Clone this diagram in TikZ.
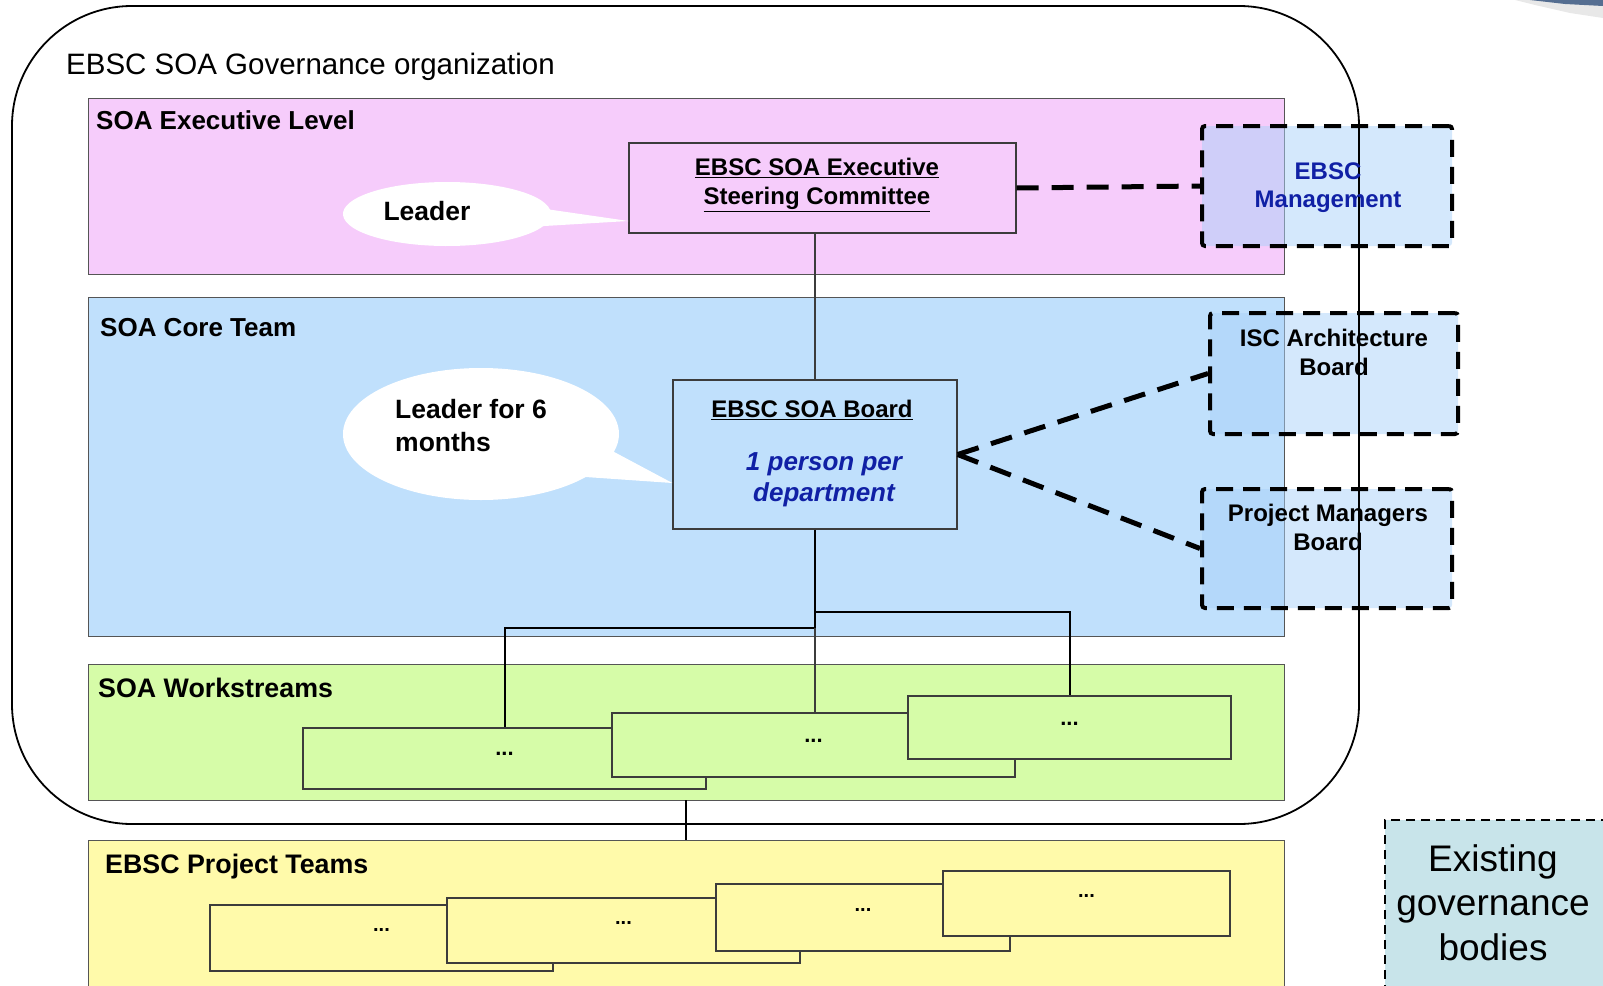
\documentclass[tikz,border=0pt]{standalone}
\usepackage{fontspec}
\setmainfont{Liberation Sans}
\usetikzlibrary{shapes.callouts,calc}
\definecolor{pinkband}{RGB}{246,204,251}
\definecolor{blueband}{RGB}{192,224,252}
\definecolor{greenband}{RGB}{214,252,168}
\definecolor{yellowband}{RGB}{255,250,170}
\definecolor{extblue}{RGB}{169,209,249}
\definecolor{exist}{RGB}{200,228,234}
\definecolor{bandline}{RGB}{85,85,85}
\definecolor{boxline}{RGB}{60,60,60}
\definecolor{darkbluetext}{RGB}{16,32,165}
\definecolor{cornerblue}{RGB}{85,110,145}
\begin{document}
\begin{tikzpicture}[x=1pt,y=-1pt,
 band/.style={draw=bandline, line width=1.2pt, anchor=north west, inner sep=0pt, minimum width=1196pt},
 orgbox/.style={draw=boxline, line width=1.3pt, inner sep=0pt},
 extbox/.style={draw=black, line width=4pt, dash pattern=on 17pt off 10pt, fill=extblue, fill opacity=0.5, rounded corners=3pt, inner sep=0pt},
 extlink/.style={line width=5pt, dash pattern=on 22pt off 13pt},
 bubble/.style={ellipse callout, fill=white, inner sep=0pt},
 bandlabel/.style={anchor=base west, inner sep=0pt, font=\fontsize{26}{31}\selectfont\bfseries},
 boxtext/.style={anchor=north, inner sep=0pt, align=center, font=\fontsize{24}{29}\selectfont\bfseries},
 dotstext/.style={inner sep=0pt, font=\fontsize{22}{26}\selectfont\bfseries},
 treeline/.style={line width=2pt},
 thinline/.style={line width=1.3pt, draw=boxline}]
\useasboundingbox (0,0) rectangle (1603,985);

% corner fragment
\fill[gray!30, opacity=0.6] (1515,0) -- (1603,0) -- (1603,18) -- (1570,13) -- (1535,5) -- cycle;
\fill[cornerblue] (1530,0) -- (1603,0) -- (1603,6) -- (1565,4) -- cycle;

% bands
\node[band, fill=pinkband, minimum height=176pt] (execband) at (88,98) {};
\node[band, fill=blueband, minimum height=339pt] (coreband) at (88,297) {};
\node[band, fill=greenband, minimum height=136pt] (wsband) at (88,664) {};
\node[band, fill=yellowband, minimum height=170pt] (ptband) at (88,840) {};

% outer organization frame
\draw[line width=1.8pt, rounded corners=120pt] (12,6) rectangle (1359,824);
\node[anchor=base west, inner sep=0pt, font=\fontsize{29.5}{34}\selectfont] (orgtitle) at (66,74) {EBSC SOA Governance organization};

% band labels
\node[bandlabel] (execlabel) at (96,129) {SOA Executive Level};
\node[bandlabel] (corelabel) at (100,336) {SOA Core Team};
\node[bandlabel, font=\fontsize{26.8}{31}\selectfont\bfseries] (wslabel) at (98,697) {SOA Workstreams};
\node[bandlabel, font=\fontsize{26.8}{31}\selectfont\bfseries] (ptlabel) at (105,873) {EBSC Project Teams};

% main boxes
\node[orgbox, fill=pinkband, minimum width=387pt, minimum height=90pt] (execbox) at (822.5,188) {};
\node[orgbox, fill=blueband, minimum width=284pt, minimum height=149pt] (board) at (815,454.5) {};

% callouts
\node[bubble, minimum width=208pt, minimum height=64pt, callout pointer arc=30,
  callout absolute pointer={([yshift=-33pt]execbox.west)}] (leadercall) at (447,214) {};
\node[bubble, minimum width=276pt, minimum height=132pt, callout pointer arc=25,
  callout absolute pointer={([yshift=-28.5pt]board.west)}] (boardcall) at (481,434) {};
\node[inner sep=0pt, font=\fontsize{26.5}{31}\selectfont\bfseries] (leadertext) at (427,211) {Leader};
\node[anchor=north west, inner sep=0pt, align=left, font=\fontsize{26.5}{33}\selectfont\bfseries] (boardcalltext) at (395,399) {Leader for 6\\months};

% box texts
\node[boxtext] (exectext) at (817,158) {\underline{EBSC SOA Executive}\\\underline{Steering Committee}};
\node[boxtext] (boardtitle) at (812,399.5) {\underline{EBSC SOA Board}};
\node[boxtext, font=\fontsize{26}{31}\selectfont\bfseries\itshape, text=darkbluetext] (boardsub) at (824,452) {1 person per\\department};

% workstream boxes
\node[orgbox, fill=greenband, minimum width=403pt, minimum height=61pt] (ws1) at (504.5,758.5) {};
\node[orgbox, fill=greenband, minimum width=403pt, minimum height=64pt] (ws2) at (813.5,745) {};
\node[orgbox, fill=greenband, minimum width=323pt, minimum height=63pt] (ws3) at (1069.5,727.5) {};
\node[dotstext] (ws1dots) at ([yshift=5pt]ws1.center) {...};
\node[dotstext] (ws2dots) at ([yshift=4pt]ws2.center) {...};
\node[dotstext] (ws3dots) at ([yshift=4pt]ws3.center) {...};

% project team boxes
\node[orgbox, fill=yellowband, minimum width=343pt, minimum height=66pt] (pt1) at (381.5,938) {};
\node[orgbox, fill=yellowband, minimum width=353pt, minimum height=65pt] (pt2) at (623.5,930.5) {};
\node[orgbox, fill=yellowband, minimum width=294pt, minimum height=67pt] (pt3) at (863,917.5) {};
\node[orgbox, fill=yellowband, minimum width=287pt, minimum height=65pt] (pt4) at (1086.5,903.5) {};
\node[dotstext, font=\fontsize{20}{24}\selectfont\bfseries] (pt1dots) at ([yshift=8pt]pt1.center) {...};
\node[dotstext, font=\fontsize{20}{24}\selectfont\bfseries] (pt2dots) at ([yshift=8pt]pt2.center) {...};
\node[dotstext, font=\fontsize{20}{24}\selectfont\bfseries] (pt3dots) at ([yshift=8pt]pt3.center) {...};
\node[dotstext, font=\fontsize{20}{24}\selectfont\bfseries] (pt4dots) at ([yshift=8pt]pt4.center) {...};

% hierarchy lines
\draw[thinline] (board.north) -- (board.north |- execbox.south);
\coordinate (jr) at (815,612);
\coordinate (jl) at (815,628);
\coordinate (jend) at (815,648);
\draw[line width=2.5pt] (board.south) -- (jend);
\draw[treeline] (jr) -| (ws3.north);
\draw[treeline] (jl) -| (ws1.north);
\draw[thinline] (jl) -- (jl |- ws2.north);
\coordinate (wsdrop) at (686,800);
\draw[thinline, draw=black] (wsdrop) -- (wsdrop |- ptband.north);

% external governance bodies
\node[extbox, minimum width=250pt, minimum height=120pt] (mgmt) at (1327,186) {};
\node[extbox, minimum width=248pt, minimum height=121pt] (isc) at (1334,373.5) {};
\node[extbox, minimum width=250pt, minimum height=119pt] (pm) at (1327,548.5) {};
\draw[line width=1.8pt] (1359,120) -- (1359,700);
\node[boxtext, text=darkbluetext, font=\fontsize{24}{28}\selectfont\bfseries] (mgmttext) at (1328,163) {EBSC\\Management};
\node[boxtext] (isctext) at (1334,328.5) {ISC Architecture\\Board};
\node[boxtext] (pmtext) at (1328,503.5) {Project Managers\\Board};

\draw[extlink] (execbox.east) -- (mgmt.west);
\draw[extlink] (board.east) -- (isc.west);
\draw[extlink] (board.east) -- (pm.west);

% existing governance bodies legend
\node[draw=black, line width=2pt, dash pattern=on 9pt off 6pt, fill=exist, anchor=north west, inner sep=0pt, minimum width=260pt, minimum height=200pt] (existing) at (1384,819) {};
\node[anchor=north, inner sep=0pt, align=center, font=\fontsize{37}{44.5}\selectfont] (existingtext) at (1493,844) {Existing\\governance\\bodies};
\end{tikzpicture}
\end{document}
